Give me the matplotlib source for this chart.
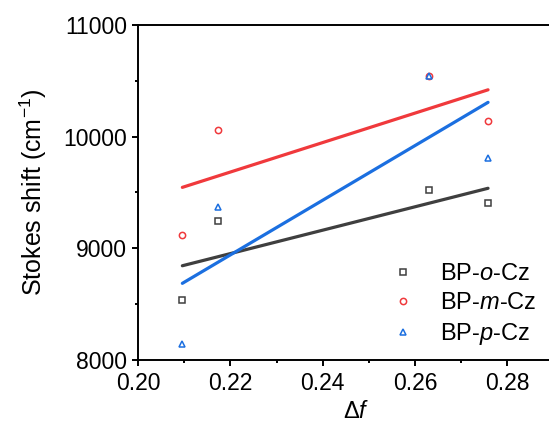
import numpy as np
import matplotlib
matplotlib.use('Agg')
import matplotlib.pyplot as plt
from matplotlib.ticker import MultipleLocator

plt.rcParams['font.family'] = ['Liberation Sans', 'DejaVu Sans']
plt.rcParams['mathtext.fontset'] = 'custom'
plt.rcParams['mathtext.rm'] = 'Liberation Sans'
plt.rcParams['mathtext.it'] = 'Liberation Sans:italic'

# Данные
delta_f = [0.2096, 0.2173, 0.2631, 0.2758]
shift_o = [8535, 9248, 9523, 9404]
shift_m = [9123, 10063, 10540, 10138]
shift_p = [8141, 9373, 10543, 9807]

labels = ['BP-$\\it{o}$-Cz', 'BP-$\\it{m}$-Cz', 'BP-$\\it{p}$-Cz']
colors = ['#3f3f3f', '#f0393c', '#1b6fe0']
markers = ['s', 'o', '^']

fig = plt.figure(figsize=(5.49, 4.23), dpi=100)
ax = fig.add_axes([0.2514, 0.149, 0.757, 0.792])

x = np.array(delta_f)
for ys, lab, c, m in zip([shift_o, shift_m, shift_p], labels, colors, markers):
    ax.plot(x, ys, linestyle='none', marker=m, markersize=4.5, markerfacecolor='none',
            markeredgecolor=c, markeredgewidth=1.1, label=lab, zorder=3)
    # линейная аппроксимация
    k, b = np.polyfit(x, ys, 1)
    xx = np.array([x.min(), x.max()])
    ax.plot(xx, k * xx + b, color=c, linewidth=2.3, solid_capstyle='round', zorder=2)

ax.set_xlim(0.20, 0.29)
ax.set_ylim(8000, 11000)
ax.xaxis.set_major_locator(MultipleLocator(0.02))
ax.xaxis.set_minor_locator(MultipleLocator(0.01))
ax.yaxis.set_major_locator(MultipleLocator(1000))
ax.yaxis.set_minor_locator(MultipleLocator(500))
ax.xaxis.set_major_formatter(plt.FormatStrFormatter('%.2f'))

for s in ax.spines.values():
    s.set_linewidth(1.4)
ax.spines['right'].set_visible(False)
ax.tick_params(which='major', direction='out', length=4.5, width=1.4, labelsize=16.5)
ax.tick_params(which='minor', direction='out', length=2.5, width=1.4)
ax.tick_params(axis='y', which='major', pad=3.5)
ax.tick_params(axis='x', which='major', pad=4)
ax.tick_params(top=False, right=False, which='both')

ax.set_xlabel('Δ$\\it{f}$', fontsize=17)
ax.xaxis.set_label_coords(0.525, -0.123)
ax.set_ylabel('Stokes shift (cm$^{-1}$)', fontsize=18)
ax.yaxis.set_label_coords(-0.214, 0.5)

ax.legend(loc='lower left', bbox_to_anchor=(0.685, 0.157), bbox_transform=fig.transFigure,
          frameon=False, fontsize=17, handletextpad=0.82, labelspacing=0.3,
          borderaxespad=0, handlelength=1.5)

fig.savefig('out.png', dpi=100)
